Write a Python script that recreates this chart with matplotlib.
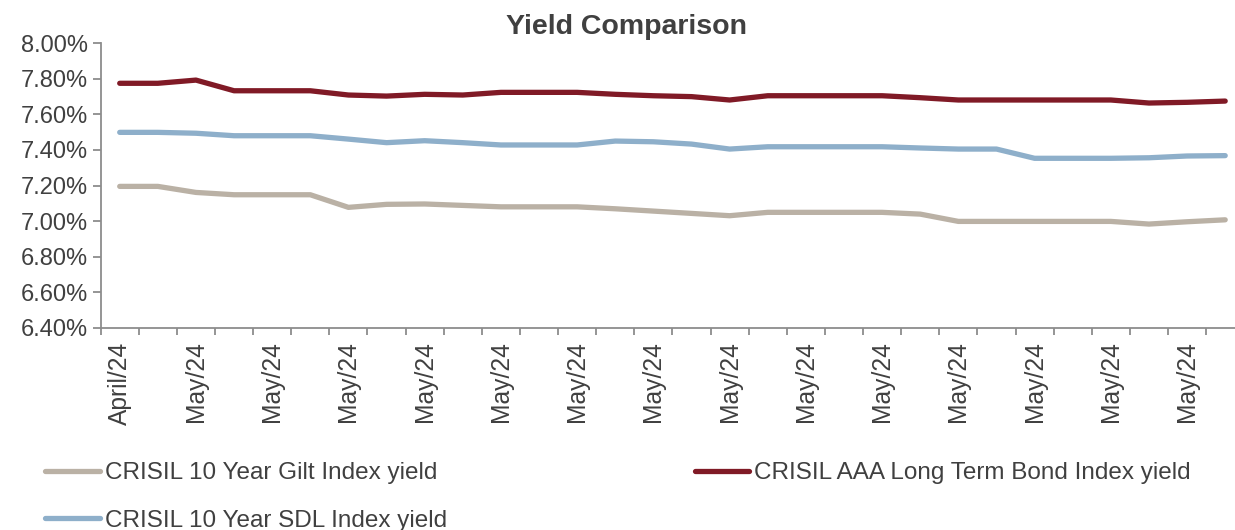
import numpy as np
import matplotlib
matplotlib.use("Agg")
import matplotlib.pyplot as plt
from matplotlib.ticker import FuncFormatter

plt.rcParams['font.family'] = ['Liberation Sans', 'DejaVu Sans']

# category labels (one per observation, only every second one is shown)
dates = ["April/24"] + ["May/24"] * 29

# yields in %
gilt = [7.195, 7.195, 7.161, 7.148, 7.148, 7.148, 7.077, 7.094, 7.096, 7.088,
        7.080, 7.080, 7.080, 7.069, 7.056, 7.043, 7.030, 7.049, 7.049, 7.049,
        7.049, 7.039, 6.998, 6.998, 6.998, 6.998, 6.998, 6.983, 6.996, 7.007]
aaa = [7.775, 7.775, 7.793, 7.733, 7.733, 7.733, 7.709, 7.703, 7.713, 7.709,
       7.724, 7.724, 7.724, 7.713, 7.705, 7.700, 7.681, 7.705, 7.705, 7.705,
       7.705, 7.694, 7.681, 7.681, 7.681, 7.681, 7.681, 7.664, 7.668, 7.675]
sdl = [7.499, 7.499, 7.494, 7.480, 7.480, 7.480, 7.461, 7.441, 7.452, 7.441,
       7.428, 7.428, 7.428, 7.450, 7.446, 7.433, 7.405, 7.418, 7.418, 7.418,
       7.418, 7.411, 7.405, 7.405, 7.353, 7.353, 7.353, 7.356, 7.366, 7.368]

names = ["CRISIL 10 Year Gilt Index yield",
         "CRISIL AAA Long Term Bond Index yield",
         "CRISIL 10 Year SDL Index yield"]
colors = ["#BAB1A5", "#801A26", "#8EAFCA"]

fig = plt.figure(figsize=(12.35, 5.30), dpi=100)
ax = fig.add_axes([0.0815, 0.3817, 0.926, 0.5366])

x = np.arange(len(dates))
lw = 3.8
l_gilt, = ax.plot(x, gilt, color=colors[0], lw=lw, solid_capstyle='round', label=names[0])
l_aaa, = ax.plot(x, aaa, color=colors[1], lw=lw, solid_capstyle='round', label=names[1])
l_sdl, = ax.plot(x, sdl, color=colors[2], lw=lw, solid_capstyle='round', label=names[2])

ax.set_xlim(-0.5, len(dates) - 0.5)
ax.set_ylim(6.4, 8.0)
ax.set_yticks(np.arange(6.4, 8.01, 0.2))
ax.yaxis.set_major_formatter(FuncFormatter(lambda v, p: "%.2f%%" % v))

ax.set_xticks(x[::2])
ax.set_xticklabels(dates[::2], rotation=90, va='top', ha='center')
ax.set_xticks(np.arange(-0.5, len(dates), 1.0), minor=True)

grey = "#8C8C8C"
for s in ['top', 'right']:
    ax.spines[s].set_visible(False)
for s in ['left', 'bottom']:
    ax.spines[s].set_color(grey)
    ax.spines[s].set_linewidth(1.3)

ax.tick_params(axis='x', which='major', length=0, pad=10, labelsize=17.7, labelcolor="#404040")
ax.tick_params(axis='x', which='minor', length=5, width=1.3, color=grey)
ax.tick_params(axis='y', length=6, width=1.3, color=grey, labelsize=17,
               labelcolor="#404040", pad=3)

fig.text(626 / 1235, 1 - 27 / 530, "Yield Comparison", ha='center', va='center',
         fontsize=20.5, fontweight='bold', color="#404040")

fig.legend(handles=[l_gilt, l_sdl, l_aaa], loc='upper left',
           bbox_to_anchor=(45 / 1235, 1 - 462 / 530), ncol=2, frameon=False,
           fontsize=17.5, handlelength=2.25, handletextpad=0.2,
           columnspacing=10.2, labelspacing=1.05, borderpad=0, borderaxespad=0,
           labelcolor="#404040")

fig.savefig("out.png", dpi=100)
